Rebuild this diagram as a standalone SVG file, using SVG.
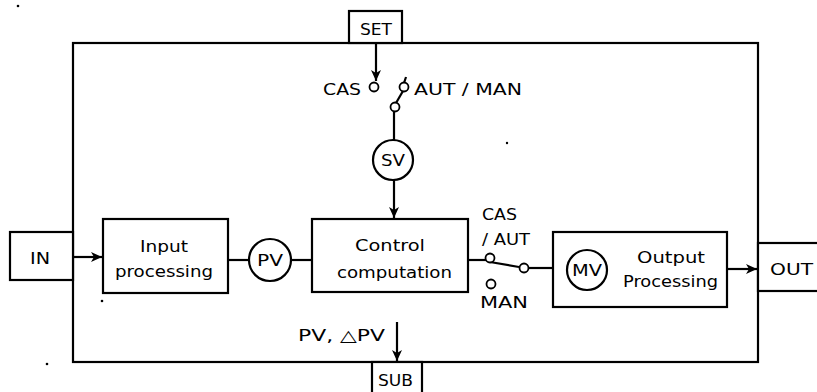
<svg xmlns="http://www.w3.org/2000/svg" width="817" height="392" viewBox="0 0 817 392">
<style>
.ln{fill:none;stroke:#000;stroke-width:2.2}
.bx{fill:#fff;stroke:#000;stroke-width:2.2}
.sc{fill:#fff;stroke:#000;stroke-width:1.8}
.t{font-family:"DejaVu Sans",sans-serif;font-size:16px;fill:#000}
.tc{font-family:"DejaVu Sans",sans-serif;font-size:17px;fill:#000;text-anchor:middle}
</style>
<defs>
<marker id="ah" markerWidth="12" markerHeight="10" refX="11" refY="5" orient="auto" markerUnits="userSpaceOnUse">
<path d="M0,0 L11,5 L0,10 L3,5 Z" fill="#000"/>
</marker>
</defs>
<rect width="817" height="392" fill="#fff"/>
<g id="frame"><rect class="ln" x="73" y="43" width="685" height="319"/></g>
<g id="set"><rect class="bx" x="349" y="11" width="53" height="32"/><text class="t" x="360" y="35" textLength="32" lengthAdjust="spacingAndGlyphs">SET</text></g>
<g id="sub"><rect class="bx" x="372" y="362" width="50" height="34"/><text class="t" x="378" y="386" textLength="35" lengthAdjust="spacingAndGlyphs">SUB</text></g>
<g id="in"><rect class="bx" x="10" y="232" width="63" height="48"/><text class="t" x="30" y="264" textLength="20" lengthAdjust="spacingAndGlyphs">IN</text></g>
<g id="out"><rect class="bx" x="758" y="243" width="62" height="48"/><text class="t" x="770" y="275" textLength="43" lengthAdjust="spacingAndGlyphs">OUT</text></g>
<g id="input"><rect class="bx" x="103" y="219" width="125" height="74"/><text class="t" x="140" y="252" textLength="48" lengthAdjust="spacingAndGlyphs">Input</text><text class="t" x="115" y="277" textLength="98" lengthAdjust="spacingAndGlyphs">processing</text></g>
<g id="pv"><circle class="bx" cx="270" cy="260" r="21"/><text class="t" x="257" y="266" textLength="26" lengthAdjust="spacingAndGlyphs">PV</text></g>
<g id="control"><rect class="bx" x="312" y="219" width="156" height="73"/><text class="t" x="355" y="251" textLength="70" lengthAdjust="spacingAndGlyphs">Control</text><text class="t" x="337" y="278" textLength="115" lengthAdjust="spacingAndGlyphs">computation</text></g>
<g id="sv"><circle class="bx" cx="393" cy="160" r="20"/><text class="t" x="381" y="166" textLength="24" lengthAdjust="spacingAndGlyphs">SV</text></g>
<g id="output"><rect class="bx" x="553" y="232" width="174" height="75"/><text class="t" x="637" y="263" textLength="68" lengthAdjust="spacingAndGlyphs">Output</text><text class="t" x="623" y="287" textLength="95" lengthAdjust="spacingAndGlyphs">Processing</text></g>
<g id="mv"><circle class="bx" cx="587" cy="270" r="20"/><text class="t" x="572" y="276" textLength="30" lengthAdjust="spacingAndGlyphs">MV</text></g>
<g id="labels">
<text class="t" x="323" y="95" textLength="38" lengthAdjust="spacingAndGlyphs">CAS</text>
<text class="t" x="414" y="95" textLength="108" lengthAdjust="spacingAndGlyphs">AUT / MAN</text>
<text class="t" x="482" y="220" textLength="35" lengthAdjust="spacingAndGlyphs">CAS</text>
<text class="t" x="482" y="245" textLength="48" lengthAdjust="spacingAndGlyphs">/ AUT</text>
<text class="t" x="480" y="308" textLength="48" lengthAdjust="spacingAndGlyphs">MAN</text>
<text class="t" x="298" y="341" textLength="87" lengthAdjust="spacingAndGlyphs">PV, △PV</text>
</g>
<g id="connectors">
<line class="ln" x1="376" y1="43" x2="376" y2="81" marker-end="url(#ah)"/>
<line class="ln" x1="406" y1="77" x2="404" y2="83"/>
<line class="ln" x1="396" y1="103" x2="403" y2="91"/>
<line class="ln" x1="394" y1="111" x2="394" y2="140"/>
<line class="ln" x1="394" y1="180" x2="394" y2="218" marker-end="url(#ah)"/>
<line class="ln" x1="73" y1="257" x2="102" y2="257" marker-end="url(#ah)"/>
<line class="ln" x1="228" y1="260" x2="249" y2="260"/>
<line class="ln" x1="291" y1="260" x2="312" y2="260"/>
<line class="ln" x1="468" y1="260" x2="486" y2="260"/>
<line class="ln" x1="490" y1="262" x2="519" y2="267"/>
<line class="ln" x1="528" y1="268" x2="553" y2="268"/>
<line class="ln" x1="727" y1="269" x2="757" y2="269" marker-end="url(#ah)"/>
<line class="ln" x1="397" y1="322" x2="397" y2="361" marker-end="url(#ah)"/>
<circle class="sc" cx="374" cy="87" r="4.5"/>
<circle class="sc" cx="404" cy="87" r="4.5"/>
<circle class="sc" cx="395" cy="107" r="4.5"/>
<circle class="sc" cx="490" cy="258" r="4.5"/>
<circle class="sc" cx="524" cy="268" r="4.5"/>
<circle class="sc" cx="491" cy="284" r="4.5"/>
</g>
<g id="specks" fill="#000">
<circle cx="18" cy="6" r="1.3"/><circle cx="102" cy="301" r="1.3"/><circle cx="47" cy="364" r="1.3"/><circle cx="507" cy="143" r="1.2"/>
</g>
</svg>
